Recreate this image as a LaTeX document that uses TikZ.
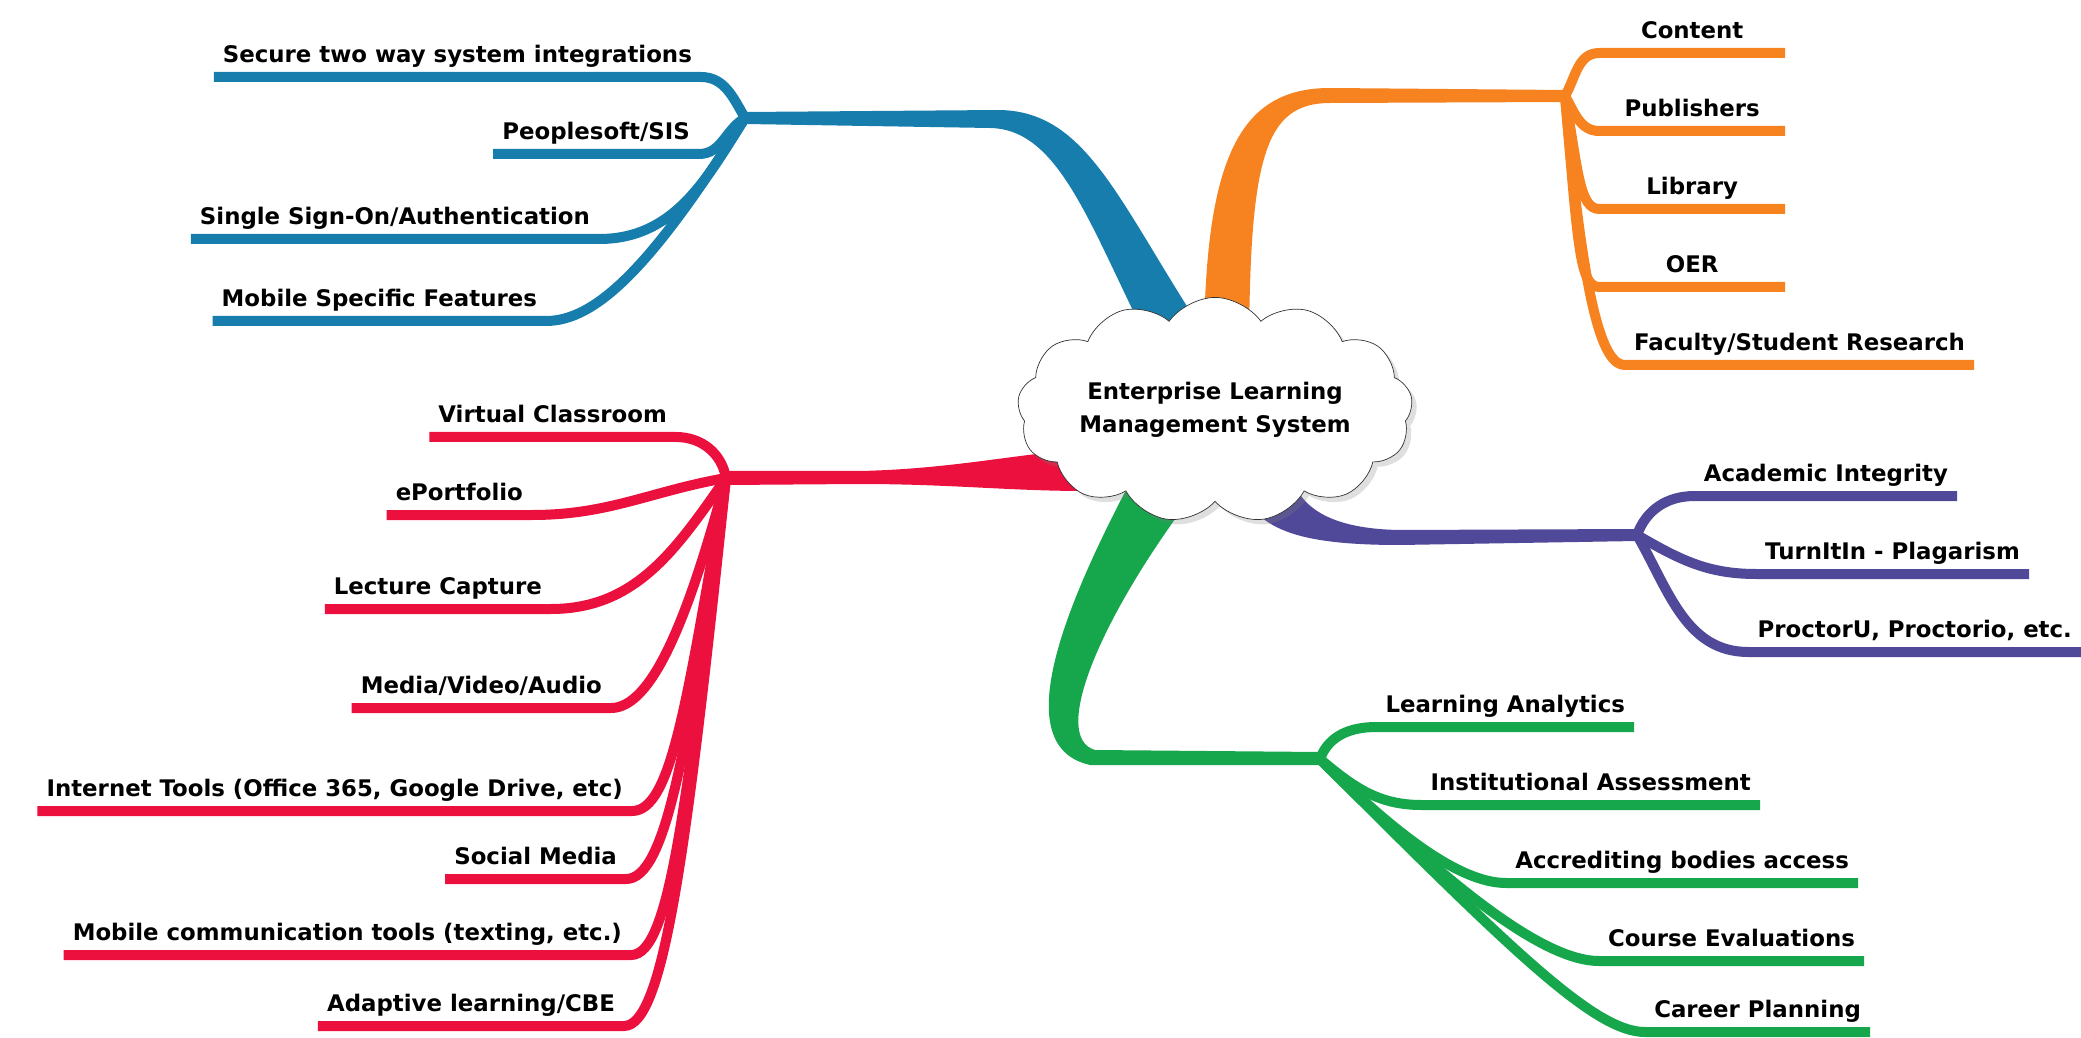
\documentclass[tikz,border=0pt]{standalone}
\usepackage{fontspec}
\setmainfont{DejaVu Sans}
\usetikzlibrary{shapes.symbols, shadows, positioning}

\definecolor{mapblue}{RGB}{22,125,172}
\definecolor{maporange}{RGB}{246,130,32}
\definecolor{mapred}{RGB}{236,16,62}
\definecolor{mappurple}{RGB}{80,72,152}
\definecolor{mapgreen}{RGB}{22,166,76}

\begin{document}
\begin{tikzpicture}[x=0.2mm,y=0.2mm,font=\fontsize{13}{19}\selectfont\bfseries]
\tikzstyle{leaf}=[inner xsep=5pt,inner ysep=5pt,text height=.75em,text depth=.3em]
\tikzstyle{twig}=[line width=2mm]
\tikzstyle{hub}=[cloud,cloud puffs=13,cloud puff arc=110,aspect=2.1,draw=black!80,fill=white,align=center,minimum width=75mm,minimum height=36mm,inner sep=0pt,drop shadow={opacity=.25}]

\useasboundingbox (0,0) rectangle (2081,1037);

% main branches
\fill[mapblue] (745,925) -- (1000,927) .. controls (1090,925) and (1120,830) .. (1212,692) -- (1150,692) .. controls (1090,810) and (1060,908) .. (990,909) -- (745,913) -- cycle;
\fill[maporange] (1204,690) .. controls (1205,880) and (1240,949) .. (1330,949) -- (1565,947) -- (1565,935) -- (1330,934) .. controls (1265,934) and (1250,880) .. (1249,690) -- cycle;
\fill[mapred] (726,566) -- (860,566) .. controls (950,568) and (1010,582) .. (1085,588) -- (1130,590) -- (1130,548) -- (1085,546) .. controls (1010,546) and (950,553) .. (860,553) -- (726,552) -- cycle;
\fill[mappurple] (1238,560) .. controls (1250,510) and (1290,492) .. (1400,492) -- (1637,496) -- (1637,508) -- (1400,507) .. controls (1330,508) and (1300,530) .. (1292,560) -- cycle;
\fill[mapgreen] (1125,545) .. controls (1060,420) and (1010,290) .. (1090,272) -- (1320,272) -- (1320,285) -- (1095,287) .. controls (1050,300) and (1100,420) .. (1195,545) -- cycle;

\node[hub] (elms) at (1215,627) {Enterprise Learning\\Management System};

\coordinate (jb) at (745,919);
\coordinate (jo) at (1565,941);
\coordinate (jr) at (726,559);
\coordinate (jp) at (1637,502);
\coordinate (jg) at (1320,278);

% blue
\node[leaf,anchor=south east] (secure) at (701,960) {Secure two way system integrations};
\node[leaf,anchor=south east] (peoplesoft) at (699,883) {Peoplesoft/SIS};
\node[leaf,anchor=south east] (sso) at (599,798) {Single Sign-On/Authentication};
\node[leaf,anchor=south east] (mobilefeat) at (546,716) {Mobile Specific Features};

\draw[twig,mapblue] (jb) to[out=120,in=0] (secure.south east) -- (secure.south west);
\draw[twig,mapblue] (jb) to[out=210,in=0] (peoplesoft.south east) -- (peoplesoft.south west);
\draw[twig,mapblue] (jb) to[out=238,in=0] (sso.south east) -- (sso.south west);
\draw[twig,mapblue] (jb) to[out=238,in=0,out distance=35mm,in distance=10mm] (mobilefeat.south east) -- (mobilefeat.south west);

% orange
\node[leaf,anchor=south east,minimum width=37mm] (content) at (1785,984) {Content};
\node[leaf,anchor=south east,minimum width=37mm] (publishers) at (1785,906) {Publishers};
\node[leaf,anchor=south east,minimum width=37mm] (library) at (1785,828) {Library};
\node[leaf,anchor=south east,minimum width=37mm] (oer) at (1785,750) {OER};
\node[leaf,anchor=south east] (research) at (1974,672) {Faculty/Student Research};

\draw[twig,maporange] (jo) to[out=60,in=180] (content.south west) -- (content.south east);
\draw[twig,maporange] (jo) to[out=-60,in=180] (publishers.south west) -- (publishers.south east);
\draw[twig,maporange] (jo) to[out=-80,in=180,out distance=15mm,in distance=4mm] (library.south west) -- (library.south east);
\draw[twig,maporange] (jo) to[out=-85,in=180,out distance=30mm,in distance=4mm] (oer.south west) -- (oer.south east);
\draw[twig,maporange] (jo) to[out=-85,in=180,out distance=45mm,in distance=4mm] (research.south west) -- (research.south east);

% red
\node[leaf,anchor=south east] (virtual) at (676,600) {Virtual Classroom};
\node[leaf,anchor=south east] (eport) at (532,522) {ePortfolio};
\node[leaf,anchor=south east] (lecture) at (551,428) {Lecture Capture};
\node[leaf,anchor=south east] (media) at (611,329) {Media/Video/Audio};
\node[leaf,anchor=south east] (internet) at (632,226) {Internet Tools (Office 365, Google Drive, etc)};
\node[leaf,anchor=south east] (social) at (626,158) {Social Media};
\node[leaf,anchor=south east] (mobilecomm) at (631,82) {Mobile communication tools (texting, etc.)};
\node[leaf,anchor=south east] (adaptive) at (624,11) {Adaptive learning/CBE};

\draw[twig,mapred] (jr) to[out=100,in=0] (virtual.south east) -- (virtual.south west);
\draw[twig,mapred] (jr) to[out=190,in=0] (eport.south east) -- (eport.south west);
\draw[twig,mapred] (jr) to[out=235,in=0] (lecture.south east) -- (lecture.south west);
\draw[twig,mapred] (jr) to[out=255,in=0,out distance=30mm,in distance=8mm] (media.south east) -- (media.south west);
\draw[twig,mapred] (jr) to[out=260,in=0,out distance=45mm,in distance=8mm] (internet.south east) -- (internet.south west);
\draw[twig,mapred] (jr) to[out=262,in=0,out distance=55mm,in distance=8mm] (social.south east) -- (social.south west);
\draw[twig,mapred] (jr) to[out=263,in=0,out distance=65mm,in distance=8mm] (mobilecomm.south east) -- (mobilecomm.south west);
\draw[twig,mapred] (jr) to[out=264,in=0,out distance=75mm,in distance=8mm] (adaptive.south east) -- (adaptive.south west);

% purple
\node[leaf,anchor=south east] (integrity) at (1957,541) {Academic Integrity};
\node[leaf,anchor=south east] (turnitin) at (2029,463) {TurnItIn - Plagarism};
\node[leaf,anchor=south east] (proctor) at (2081,385) {ProctorU, Proctorio, etc.};

\draw[twig,mappurple] (jp) to[out=70,in=180] (integrity.south west) -- (integrity.south east);
\draw[twig,mappurple] (jp) to[out=-30,in=180] (turnitin.south west) -- (turnitin.south east);
\draw[twig,mappurple] (jp) to[out=-60,in=180] (proctor.south west) -- (proctor.south east);

% green
\node[leaf,anchor=south east] (analytics) at (1634,310) {Learning Analytics};
\node[leaf,anchor=south east] (assessment) at (1760,232) {Institutional Assessment};
\node[leaf,anchor=south east] (accredit) at (1858,154) {Accrediting bodies access};
\node[leaf,anchor=south east] (evaluations) at (1864,76) {Course Evaluations};
\node[leaf,anchor=south east] (career) at (1870,5) {Career Planning};

\draw[twig,mapgreen] (jg) to[out=70,in=180] (analytics.south west) -- (analytics.south east);
\draw[twig,mapgreen] (jg) to[out=-40,in=180] (assessment.south west) -- (assessment.south east);
\draw[twig,mapgreen] (jg) to[out=-45,in=180,out distance=25mm,in distance=8mm] (accredit.south west) -- (accredit.south east);
\draw[twig,mapgreen] (jg) to[out=-45,in=180,out distance=40mm,in distance=10mm] (evaluations.south west) -- (evaluations.south east);
\draw[twig,mapgreen] (jg) to[out=-45,in=180,out distance=55mm,in distance=10mm] (career.south west) -- (career.south east);
\end{tikzpicture}
\end{document}
